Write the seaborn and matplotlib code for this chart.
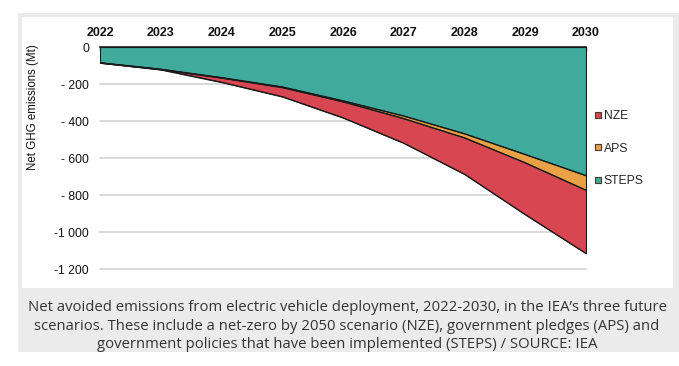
import matplotlib
matplotlib.use("Agg")
import matplotlib.pyplot as plt
from matplotlib.patches import Rectangle
from matplotlib.lines import Line2D
import seaborn as sns
import pandas as pd

years = [2022, 2023, 2024, 2025, 2026, 2027, 2028, 2029, 2030]
steps = [-85, -120, -165, -215, -290, -372, -468, -580, -694]
aps = [-85, -120, -166, -218, -295, -386, -490, -625, -773]
nze = [-85, -122, -190, -268, -382, -519, -687, -905, -1115]
scenarios = ["NZE", "APS", "STEPS"]
colors = {"NZE": "#D84651", "APS": "#E9A146", "STEPS": "#40AB9D"}
yticks = [0, -200, -400, -600, -800, -1000, -1200]
ytick_labels = ["0", "- 200", "- 400", "- 600", "- 800", "-1 000", "-1 200"]
caption = ("Net avoided emissions from electric vehicle deployment, 2022-2030, in the IEA\u2019s three future\n"
           "scenarios. These include a net-zero by 2050 scenario (NZE), government pledges (APS) and\n"
           "government policies that have been implemented (STEPS) / SOURCE: IEA")

df = pd.DataFrame({"year": years, "NZE": nze, "APS": aps, "STEPS": steps})
long = df.melt(id_vars="year", var_name="scenario", value_name="value")

sns.set_theme(style="white")
plt.rcParams["font.family"] = ["Liberation Sans", "DejaVu Sans"]

W, H = 679, 366
fig = plt.figure(figsize=(W / 100, H / 100), dpi=100)
fig.patch.set_facecolor("white")

def rect(x0, y0, x1, y1, color):
    fig.patches.append(Rectangle((x0 / W, 1 - y1 / H), (x1 - x0) / W, (y1 - y0) / H,
                                 transform=fig.transFigure, facecolor=color,
                                 edgecolor="none", zorder=-10))

rect(18, 13, 679, 352, "#EBEBEB")
rect(22, 17, 673, 288, "white")

ax = fig.add_axes([100 / W, 1 - 269.5 / H, (586 - 100) / W, (269.5 - 47) / H])
ax.set_facecolor("none")

for name in scenarios:
    ax.fill_between(df["year"], 0, df[name], facecolor=colors[name],
                    edgecolor="#1a1a1a", linewidth=0.8, zorder=3)
sns.lineplot(data=long, x="year", y="value", hue="scenario", palette={s: "#1a1a1a" for s in scenarios},
             linewidth=0.8, legend=False, ax=ax, zorder=4)

ax.set_xlim(2022, 2030)
ax.set_ylim(-1202, 0)
ax.set_yticks(yticks)
ax.set_yticklabels(ytick_labels)
ax.set_xticks(years)
ax.set_xticklabels([str(y) for y in years])
ax.xaxis.tick_top()
ax.tick_params(axis="x", direction="in", length=3, width=1, color="#1a1a1a",
               labelsize=9, pad=6, labelcolor="#111111", top=True, bottom=False)
ax.tick_params(axis="y", length=0, labelsize=8.7, pad=8, labelcolor="#111111")
for lab in ax.get_xticklabels():
    lab.set_fontweight("bold")
for y in yticks[1:]:
    ax.axhline(y, color="#D9D9D9", linewidth=1.4, zorder=1, clip_on=False)
for s in ["left", "right", "bottom"]:
    ax.spines[s].set_visible(False)
ax.spines["top"].set_color("#1a1a1a")
ax.spines["top"].set_linewidth(1.2)
ax.spines["top"].set_zorder(5)
ax.set_xlabel("")
ax.set_ylabel("")

fig.text(33 / W, 1 - 107 / H, "Net GHG emissions (Mt)", rotation=90, ha="center", va="center",
         fontsize=8.3, color="#111111")

handles = [Line2D([], [], linestyle="none", marker="s", markersize=5, markerfacecolor=colors[s],
                  markeredgecolor="#4a3a30", markeredgewidth=0.8) for s in scenarios]
fig.legend(handles, scenarios, loc="upper left", bbox_to_anchor=(594 / W, 1 - 110 / H),
           frameon=False, fontsize=8.7, handlelength=0.6, handletextpad=0.2,
           labelspacing=1.7, borderpad=0, borderaxespad=0)

fig.text(347 / W, 1 - 326 / H, caption, ha="center", va="center", fontsize=10.7,
         family=["Open Sans", "DejaVu Sans"], color="#333333", linespacing=1.33)

fig.savefig("out.png", dpi=100, facecolor="white")
